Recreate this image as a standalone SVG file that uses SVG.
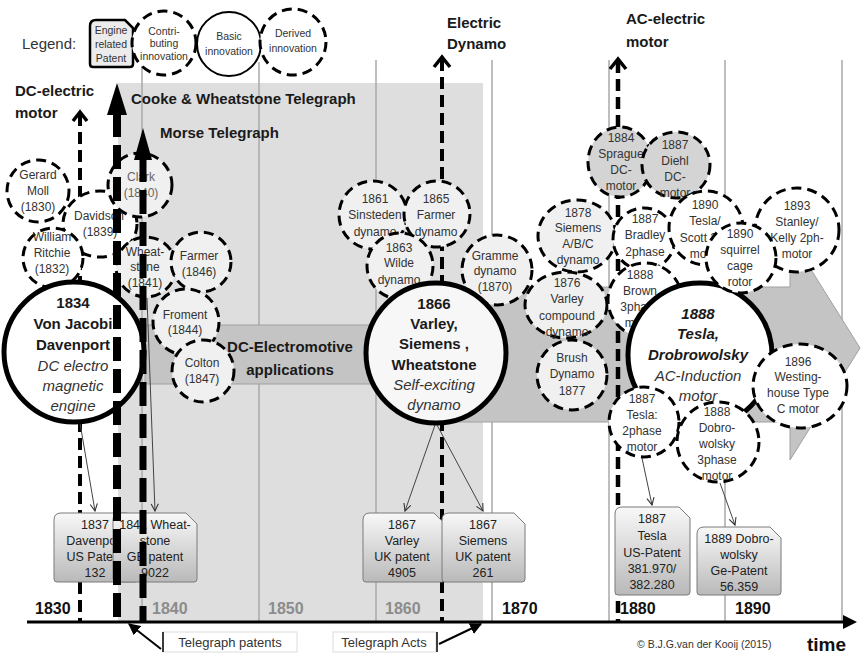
<svg xmlns="http://www.w3.org/2000/svg" width="865" height="654" viewBox="0 0 865 654">
<defs>
<linearGradient id="patentFill" x1="0" y1="0" x2="0" y2="1">
<stop offset="0" stop-color="#f8f8f8"/><stop offset="1" stop-color="#b9b9b9"/>
</linearGradient>
<marker id="openHead" viewBox="0 0 10 10" refX="9" refY="5" markerWidth="9" markerHeight="9" orient="auto" markerUnits="userSpaceOnUse">
<path d="M1,1 L9,5 L1,9" fill="none" stroke="#333" stroke-width="1.2"/>
</marker>
<marker id="solidHead" viewBox="0 0 10 10" refX="9" refY="5" markerWidth="12" markerHeight="12" orient="auto" markerUnits="userSpaceOnUse">
<path d="M0,0 L10,5 L0,10 Z" fill="#000"/>
</marker>
<style>
text { font-family: "Liberation Sans", Arial, sans-serif; }
.n { font-size: 12px; fill: #333; text-anchor: middle; }
.leg { font-size: 10.5px; fill: #333; text-anchor: middle; }
.hd { font-size: 15px; font-weight: bold; fill: #1a1a1a; }
.bt { font-size: 15px; font-weight: bold; fill: #1a1a1a; text-anchor: middle; }
.it { font-style: italic; font-weight: normal; fill: #333; }
.bi { font-style: italic; }
.pt { font-size: 12.5px; fill: #222; text-anchor: middle; }
.yr { font-size: 16px; font-weight: bold; fill: #111; }
.yg { fill: #8c8c8c; }
.dc { fill: #f0f0f0; stroke: #000; stroke-width: 3; stroke-dasharray: 10 6; }
.dw { fill: #ffffff; stroke: #000; stroke-width: 3; stroke-dasharray: 10 6; }
.dg { fill: #d4d4d4; stroke: #000; stroke-width: 3; stroke-dasharray: 10 6; }
.bc { fill: #ffffff; stroke: #000; stroke-width: 5; }
.grid { stroke: #a8a8a8; stroke-width: 1.5; }
.conn { stroke: #444; stroke-width: 1; fill: none; marker-end: url(#openHead); }
.pat { fill: url(#patentFill); stroke: #7a7a7a; stroke-width: 1; }
.trend { stroke: #000; fill: none; stroke-width: 4; stroke-dasharray: 12 6; }
.chev { stroke: #000; fill: none; stroke-width: 3.5; }
.thick { stroke: #000; fill: none; stroke-dasharray: 24 8; }
</style>
</defs>

<!-- telegraph era background -->
<rect x="118" y="83" width="365" height="539" fill="#dedede"/>

<!-- decade grid -->
<g id="grid">
<line class="grid" x1="142" y1="62" x2="142" y2="622"/>
<line class="grid" x1="259" y1="62" x2="259" y2="622"/>
<line class="grid" x1="376" y1="60" x2="376" y2="622"/>
<line class="grid" x1="492" y1="60" x2="492" y2="622"/>
<line class="grid" x1="609" y1="60" x2="609" y2="622"/>
<line class="grid" x1="725" y1="60" x2="725" y2="622"/>
<line class="grid" x1="842" y1="60" x2="842" y2="622"/>
</g>

<!-- DC-electromotive applications band -->
<g id="applications">
<path d="M145,325 H440 V287 H790 V236 L860,348 L790,460 V422 H440 V384 H145 Z" fill="#c4c4c4" stroke="#a0a0a0" stroke-width="1"/>
<text class="bt" x="290" y="352">DC-Electromotive</text>
<text class="bt" x="290" y="375">applications</text>
</g>

<!-- time axis -->
<g id="axis">
<line x1="27" y1="622" x2="846" y2="622" stroke="#000" stroke-width="3"/>
<path d="M843,615 L857,622 L843,629 Z" fill="#000"/>
<text class="yr" x="35" y="614">1830</text>
<text class="yr yg" x="152" y="614">1840</text>
<text class="yr yg" x="268" y="614">1850</text>
<text class="yr yg" x="385" y="614">1860</text>
<text class="yr" x="502" y="614">1870</text>
<text class="yr" x="620" y="614">1880</text>
<text class="yr" x="735" y="614">1890</text>
<text x="807" y="651" style="font-size:19px;font-weight:bold;fill:#111">time</text>
<text x="637" y="648" style="font-size:10.5px;fill:#333">© B.J.G.van der Kooij (2015)</text>
</g>

<!-- legend -->
<g id="legend">
<text x="22" y="49" style="font-size:15px;fill:#333">Legend:</text>
<path d="M90,26 Q90,20 96,20 H125 L133,28 V64 Q133,67 130,67 H93 Q90,67 90,64 Z" fill="#ececec" stroke="#000" stroke-width="2.5"/>
<text class="leg" x="111" y="34">Engine</text>
<text class="leg" x="111" y="48">related</text>
<text class="leg" x="111" y="62">Patent</text>
<circle cx="164" cy="43" r="32" fill="#fff" stroke="#000" stroke-width="3" stroke-dasharray="10 6"/>
<text class="leg" x="164" y="35">Contri-</text>
<text class="leg" x="164" y="47">buting</text>
<text class="leg" x="164" y="60">innovation</text>
<circle cx="229" cy="44" r="32" fill="#fff" stroke="#000" stroke-width="2"/>
<text class="leg" x="229" y="40">Basic</text>
<text class="leg" x="229" y="55">innovation</text>
<circle cx="293" cy="42" r="33" fill="#fff" stroke="#000" stroke-width="3" stroke-dasharray="10 6"/>
<text class="leg" x="293" y="37">Derived</text>
<text class="leg" x="293" y="52">innovation</text>
</g>

<!-- trend lines behind the nodes -->
<g id="trends">
<line class="trend" x1="80" y1="114" x2="80" y2="622"/>
<polyline class="chev" points="73,121 80,112 87,121"/>
<line class="trend" x1="442" y1="59" x2="442" y2="622"/>
<polyline class="chev" points="434,67 442,57 450,67"/>
<line class="trend" x1="618" y1="61" x2="618" y2="622" style="stroke-width:4.5"/>
<polyline class="chev" points="610,69 618,59 626,69"/>
</g>

<!-- connectors from innovations to patents -->
<g id="connectors">
<line class="conn" x1="80" y1="423" x2="95" y2="511"/>
<line class="conn" x1="147" y1="298" x2="155" y2="511"/>
<line class="conn" x1="435" y1="425" x2="405" y2="511"/>
<line class="conn" x1="437" y1="425" x2="483" y2="511"/>
<line class="conn" x1="642" y1="458" x2="652" y2="505"/>
<line class="conn" x1="720" y1="483" x2="735" y2="525"/>
</g>

<!-- patents -->
<g id="patent-davenport">
<path class="pat" d="M54,520 Q54,513 61,513 H127 L138,524 V579 Q138,582 135,582 H57 Q54,582 54,579 Z"/>
<text class="pt" x="95" y="529">1837</text>
<text class="pt" x="95" y="545">Davenport</text>
<text class="pt" x="95" y="561">US Patent</text>
<text class="pt" x="95" y="577">132</text>
</g>
<g id="patent-wheatstone">
<path class="pat" d="M113,520 Q113,513 120,513 H186 L197,524 V579 Q197,582 194,582 H116 Q113,582 113,579 Z"/>
<text class="pt" x="155" y="529">1841 Wheat-</text>
<text class="pt" x="155" y="545">stone</text>
<text class="pt" x="155" y="561">GB patent</text>
<text class="pt" x="155" y="577">9022</text>
</g>
<g id="patent-varley">
<path class="pat" d="M363,520 Q363,513 370,513 H434 L445,524 V579 Q445,582 442,582 H366 Q363,582 363,579 Z"/>
<text class="pt" x="402" y="529">1867</text>
<text class="pt" x="402" y="545">Varley</text>
<text class="pt" x="402" y="561">UK patent</text>
<text class="pt" x="402" y="577">4905</text>
</g>
<g id="patent-siemens">
<path class="pat" d="M442,520 Q442,513 449,513 H514 L525,524 V579 Q525,582 522,582 H445 Q442,582 442,579 Z"/>
<text class="pt" x="483" y="529">1867</text>
<text class="pt" x="483" y="545">Siemens</text>
<text class="pt" x="483" y="561">UK patent</text>
<text class="pt" x="483" y="577">261</text>
</g>
<g id="patent-tesla">
<path class="pat" d="M615,514 Q615,507 622,507 H679 L690,518 V592 Q690,595 687,595 H618 Q615,595 615,592 Z"/>
<text class="pt" x="652" y="523">1887</text>
<text class="pt" x="652" y="540">Tesla</text>
<text class="pt" x="652" y="557">US-Patent</text>
<text class="pt" x="652" y="573">381.970/</text>
<text class="pt" x="652" y="589">382.280</text>
</g>
<g id="patent-dobrowolsky">
<path class="pat" d="M697,534 Q697,527 704,527 H770 L781,538 V592 Q781,595 778,595 H700 Q697,595 697,592 Z"/>
<text class="pt" x="739" y="543">1889 Dobro-</text>
<text class="pt" x="739" y="559">wolsky</text>
<text class="pt" x="739" y="575">Ge-Patent</text>
<text class="pt" x="739" y="591">56.359</text>
</g>

<!-- DC motor innovations -->
<g id="moll">
<circle class="dw" cx="38" cy="191" r="31"/>
<text class="n" x="38" y="179">Gerard</text>
<text class="n" x="38" y="195">Moll</text>
<text class="n" x="38" y="211">(1830)</text>
</g>
<g id="davidson">
<ellipse class="dw" cx="100" cy="224" rx="37" ry="33"/>
<text class="n" x="99" y="220">Davidson</text>
<text class="n" x="100" y="236">(1839)</text>
</g>
<g id="ritchie">
<circle class="dw" cx="53" cy="258" r="30"/>
<text class="n" x="52" y="241">William</text>
<text class="n" x="52" y="257">Ritchie</text>
<text class="n" x="52" y="273">(1832)</text>
</g>
<g id="clark">
<circle class="dc" cx="140" cy="185" r="32"/>
<text class="n" x="141" y="181" style="fill:#666">Clark</text>
<text class="n" x="141" y="197" style="fill:#666">(1840)</text>
</g>
<g id="wheatstone">
<circle class="dc" cx="146" cy="267" r="30"/>
<text class="n" x="145" y="256">Wheat-</text>
<text class="n" x="145" y="271">stone</text>
<text class="n" x="145" y="287">(1841)</text>
</g>
<g id="farmer">
<circle class="dc" cx="201" cy="262" r="30"/>
<text class="n" x="199" y="260">Farmer</text>
<text class="n" x="199" y="276">(1846)</text>
</g>
<g id="froment">
<circle class="dc" cx="186" cy="322" r="33"/>
<text class="n" x="185" y="319">Froment</text>
<text class="n" x="185" y="334">(1844)</text>
</g>
<g id="colton">
<circle class="dc" cx="203" cy="371" r="31"/>
<text class="n" x="202" y="367">Colton</text>
<text class="n" x="202" y="383">(1847)</text>
</g>
<g id="jacobi-davenport">
<circle class="bc" cx="74" cy="352" r="70"/>
<text class="bt" x="73" y="308">1834</text>
<text class="bt" x="73" y="329">Von Jacobi</text>
<text class="bt" x="73" y="350">Davenport</text>
<text class="bt it" x="73" y="371">DC electro</text>
<text class="bt it" x="73" y="391">magnetic</text>
<text class="bt it" x="73" y="411">engine</text>
</g>

<!-- dynamo innovations -->
<g id="sinsteden">
<circle class="dc" cx="373" cy="215" r="34"/>
<text class="n" x="375" y="203">1861</text>
<text class="n" x="375" y="219">Sinsteden</text>
<text class="n" x="375" y="236">dynamo</text>
</g>
<g id="farmer-dynamo">
<circle class="dc" cx="437" cy="214" r="33"/>
<text class="n" x="436" y="203">1865</text>
<text class="n" x="436" y="219">Farmer</text>
<text class="n" x="436" y="236">dynamo</text>
</g>
<g id="wilde">
<circle class="dc" cx="400" cy="266" r="33"/>
<text class="n" x="399" y="252">1863</text>
<text class="n" x="399" y="267">Wilde</text>
<text class="n" x="399" y="284">dynamo</text>
</g>
<g id="gramme">
<circle class="dc" cx="497" cy="270" r="35"/>
<text class="n" x="495" y="260">Gramme</text>
<text class="n" x="495" y="275">dynamo</text>
<text class="n" x="495" y="291">(1870)</text>
</g>
<g id="self-exciting-dynamo">
<circle class="bc" cx="436" cy="353" r="70" style="fill:#f7f7f7"/>
<text class="bt" x="434" y="309">1866</text>
<text class="bt" x="434" y="329">Varley,</text>
<text class="bt" x="434" y="349">Siemens ,</text>
<text class="bt" x="434" y="370">Wheatstone</text>
<text class="bt it" x="434" y="390">Self-exciting</text>
<text class="bt it" x="434" y="410">dynamo</text>
</g>
<g id="siemens-abc">
<ellipse class="dc" cx="577" cy="236" rx="39" ry="36"/>
<text class="n" x="578" y="217">1878</text>
<text class="n" x="578" y="232">Siemens</text>
<text class="n" x="578" y="248">A/B/C</text>
<text class="n" x="578" y="264">dynamo</text>
</g>
<g id="varley-compound">
<ellipse class="dc" cx="566" cy="305" rx="41" ry="33"/>
<text class="n" x="567" y="287">1876</text>
<text class="n" x="567" y="303">Varley</text>
<text class="n" x="567" y="320">compound</text>
<text class="n" x="567" y="336">dynamo</text>
</g>
<g id="brush">
<circle class="dc" cx="572" cy="375" r="35"/>
<text class="n" x="572" y="362">Brush</text>
<text class="n" x="572" y="378">Dynamo</text>
<text class="n" x="572" y="395">1877</text>
</g>

<!-- AC motor innovations -->
<g id="sprague">
<ellipse class="dg" cx="620" cy="162" rx="32" ry="35"/>
<text class="n" x="621" y="142">1884</text>
<text class="n" x="621" y="158">Sprague</text>
<text class="n" x="621" y="174">DC-</text>
<text class="n" x="621" y="190">motor</text>
</g>
<g id="diehl">
<ellipse class="dg" cx="676" cy="165" rx="34" ry="33"/>
<text class="n" x="675" y="149">1887</text>
<text class="n" x="675" y="165">Diehl</text>
<text class="n" x="675" y="181">DC-</text>
<text class="n" x="675" y="197">motor</text>
</g>
<g id="bradley">
<circle class="dw" cx="644" cy="239" r="31"/>
<text class="n" x="645" y="223">1887</text>
<text class="n" x="645" y="239">Bradley</text>
<text class="n" x="645" y="256">2phase</text>
<text class="n" x="645" y="272">motor</text>
</g>
<g id="brown">
<circle class="dw" cx="645" cy="300" r="37"/>
<text class="n" x="640" y="279">1888</text>
<text class="n" x="640" y="295">Brown</text>
<text class="n" x="640" y="311">3phase</text>
<text class="n" x="640" y="327">motor</text>
</g>
<g id="ac-induction">
<circle class="bc" cx="700" cy="355" r="72"/>
<text class="bt bi" x="698" y="319">1888</text>
<text class="bt bi" x="698" y="339">Tesla,</text>
<text class="bt bi" x="698" y="360">Drobrowolsky</text>
<text class="bt it" x="698" y="381">AC-Induction</text>
<text class="bt it" x="698" y="401">motor</text>
</g>
<g id="tesla-scott">
<circle class="dw" cx="706" cy="228" r="37"/>
<text class="n" x="705" y="209">1890</text>
<text class="n" x="705" y="225">Tesla/</text>
<text class="n" x="705" y="242">Scott 2ph</text>
<text class="n" x="705" y="258">motor</text>
</g>
<g id="stanley-kelly">
<ellipse class="dw" cx="797" cy="230" rx="42" ry="42"/>
<text class="n" x="797" y="210">1893</text>
<text class="n" x="797" y="226">Stanley/</text>
<text class="n" x="797" y="242">Kelly 2ph-</text>
<text class="n" x="797" y="258">motor</text>
</g>
<g id="squirrel-cage">
<circle class="dw" cx="741" cy="258" r="35"/>
<text class="n" x="740" y="238">1890</text>
<text class="n" x="740" y="254">squirrel</text>
<text class="n" x="740" y="270">cage</text>
<text class="n" x="740" y="286">rotor</text>
</g>
<g id="westinghouse">
<ellipse class="dw" cx="800" cy="386" rx="47" ry="42"/>
<text class="n" x="798" y="366">1896</text>
<text class="n" x="798" y="381">Westing-</text>
<text class="n" x="798" y="397">house Type</text>
<text class="n" x="798" y="413">C motor</text>
</g>
<g id="tesla-2phase">
<circle class="dw" cx="644" cy="422" r="35"/>
<text class="n" x="642" y="403">1887</text>
<text class="n" x="642" y="419">Tesla:</text>
<text class="n" x="642" y="435">2phase</text>
<text class="n" x="642" y="451">motor</text>
</g>
<g id="dobrowolsky-3phase">
<ellipse class="dw" cx="718" cy="442" rx="41" ry="40"/>
<text class="n" x="717" y="416">1888</text>
<text class="n" x="717" y="432">Dobro-</text>
<text class="n" x="717" y="448">wolsky</text>
<text class="n" x="717" y="464">3phase</text>
<text class="n" x="717" y="480">motor</text>
</g>

<!-- telegraph trend arrows, drawn over the nodes -->
<g id="telegraph-trends">
<line class="thick" x1="117" y1="113" x2="117" y2="622" style="stroke-width:8"/>
<path d="M107,115 L117,83 L127,115 Z" fill="#000"/>
<line class="thick" x1="143" y1="158" x2="143" y2="622" style="stroke-width:7"/>
<path d="M134,160 L143,128 L152,160 Z" fill="#000"/>
</g>

<!-- era labels -->
<g id="labels">
<text class="hd" x="15" y="96">DC-electric</text>
<text class="hd" x="15" y="118">motor</text>
<text class="hd" x="131" y="104">Cooke &amp; Wheatstone Telegraph</text>
<text class="hd" x="160" y="138">Morse Telegraph</text>
<text class="hd" x="447" y="28">Electric</text>
<text class="hd" x="447" y="49">Dynamo</text>
<text class="hd" x="626" y="24">AC-electric</text>
<text class="hd" x="626" y="47">motor</text>
</g>

<!-- telegraph callouts -->
<g id="telegraph-patents">
<rect x="163" y="632" width="134" height="20" fill="#fff" stroke="#dcdcdc" stroke-width="1"/>
<text x="230" y="647" style="font-size:13px;fill:#333;text-anchor:middle">Telegraph patents</text>
<line x1="163" y1="632" x2="163" y2="652" stroke="#000" stroke-width="1.5"/>
<line x1="161" y1="649" x2="129" y2="624" stroke="#000" stroke-width="2" marker-end="url(#solidHead)"/>
</g>
<g id="telegraph-acts">
<rect x="333" y="632" width="103" height="20" fill="#fff" stroke="#dcdcdc" stroke-width="1"/>
<text x="384" y="647" style="font-size:13px;fill:#333;text-anchor:middle">Telegraph Acts</text>
<line x1="437" y1="632" x2="437" y2="652" stroke="#000" stroke-width="1.5"/>
<line x1="439" y1="644" x2="481" y2="624" stroke="#000" stroke-width="2" marker-end="url(#solidHead)"/>
</g>
</svg>
